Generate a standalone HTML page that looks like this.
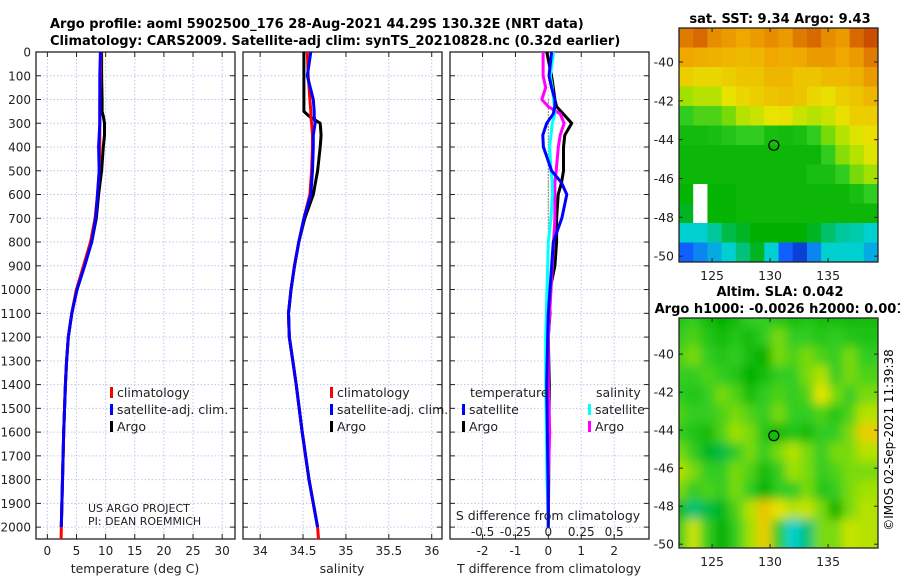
<!DOCTYPE html>
<html><head><meta charset="utf-8">
<style>
html,body{margin:0;padding:0;background:#fff;}
svg{display:block;font-family:"DejaVu Sans","Liberation Sans",sans-serif;}
</style></head>
<body>
<svg id="chart" width="900" height="580" viewBox="0 0 900 580" xmlns="http://www.w3.org/2000/svg">
<defs>
<filter id="blur" x="0" y="0" width="1" height="1"><feGaussianBlur stdDeviation="5"/></filter>
<clipPath id="clipSLA"><rect x="679" y="318" width="199" height="230"/></clipPath>
<clipPath id="clipSST"><rect x="679" y="28" width="199" height="234"/></clipPath>
</defs>
<text x="50" y="28" font-size="13" font-weight="bold">Argo profile: aoml 5902500_176 28-Aug-2021 44.29S 130.32E (NRT data)</text>
<text x="50" y="45" font-size="13" font-weight="bold">Climatology: CARS2009. Satellite-adj clim: synTS_20210828.nc (0.32d earlier)</text>
<text x="780" y="23" font-size="13" font-weight="bold" text-anchor="middle">sat. SST: 9.34 Argo: 9.43</text>
<text x="780" y="296" font-size="13" font-weight="bold" text-anchor="middle">Altim. SLA: 0.042</text>
<text x="780" y="313" font-size="13" font-weight="bold" text-anchor="middle">Argo h1000: -0.0026 h2000: 0.001</text>
<text transform="translate(893,440) rotate(-90)" font-size="12" text-anchor="middle">©IMOS 02-Sep-2021 11:39:38</text>
<g id="g"></g>
</svg>
<script>
// ---------- data ----------
const depthTicks = [0,100,200,300,400,500,600,700,800,900,1000,1100,1200,1300,1400,1500,1600,1700,1800,1900,2000];
const tempTicks = [0,5,10,15,20,25,30];
const salTicks = [34,34.5,35,35.5,36];
const salTickLabels = ["34","34.5","35","35.5","36"];
const tdiffTicks = [-2,-1,0,1,2];
const sdiffTicks = [-0.5,-0.25,0,0.25,0.5];
const sdiffTickLabels = ["-0.5","-0.25","0","0.25","0.5"];

const profDepths = [0,100,200,250,270,300,350,400,500,600,700,800,900,1000,1100,1200,1300,1400,1600,1800,2000];
const climDepths = [0,100,200,250,270,300,350,400,500,600,700,800,900,1000,1100,1200,1300,1400,1600,1800,2000,2050];
const tempArgo = [9.3,9.3,9.4,9.4,9.6,9.8,9.8,9.6,9.3,8.8,8.4,7.6,6.3,5.0,4.2,3.6,3.3,3.1,2.8,2.6,2.4];
const tempClim = [9.2,9.1,9.0,9.0,9.0,9.0,9.0,9.0,8.9,8.6,8.2,7.4,6.2,5.0,4.2,3.6,3.3,3.1,2.8,2.6,2.4,2.35];
const tempSat  = [9.1,9.0,9.0,9.0,9.0,9.0,8.9,8.8,8.9,8.6,8.3,7.6,6.4,5.1,4.2,3.6,3.3,3.1,2.8,2.6,2.4];
const salArgo = [34.51,34.51,34.51,34.51,34.57,34.70,34.71,34.70,34.67,34.62,34.52,34.45,34.40,34.36,34.33,34.34,34.38,34.42,34.49,34.57,34.67];
const salClim = [34.55,34.56,34.58,34.59,34.59,34.60,34.61,34.61,34.60,34.58,34.51,34.45,34.40,34.36,34.33,34.34,34.38,34.42,34.49,34.57,34.67,34.68];
const salSat  = [34.59,34.55,34.62,34.63,34.63,34.64,34.62,34.62,34.61,34.59,34.51,34.45,34.40,34.36,34.33,34.34,34.38,34.42,34.49,34.57,34.67];

const diffDepths = [0,100,150,200,230,260,300,350,400,500,550,600,700,800,900,1000,1100,1200,1400,1600,1800,2000];
const tdiffArgo = [-0.05,0.1,0.15,0.2,0.25,0.45,0.71,0.5,0.46,0.46,0.4,0.3,0.25,0.25,0.2,0.05,0.05,0.0,0.03,0.02,0.01,0.0];
const tdiffSat  = [0.1,0.02,0.1,0.2,0.2,0.15,-0.05,-0.17,-0.15,0.1,0.4,0.56,0.41,0.15,0.1,0.05,0.0,-0.02,-0.05,-0.03,-0.01,0];
const sdiffArgo = [-0.04,-0.04,-0.02,-0.05,0.0,0.09,0.12,0.09,0.076,0.06,0.05,0.05,0.05,0.04,0.03,0.02,0.01,0.0,0.0,0.01,0.0,0];
const sdiffSat  = [0.04,0.015,0.03,0.04,0.045,0.05,0.03,0.02,0.01,0.02,0.03,0.03,0.02,0.0,-0.005,-0.01,-0.015,-0.02,-0.02,-0.015,-0.01,0];

const lonTicks = [125,130,135];
const latTicks = [-40,-42,-44,-46,-48,-50];
const argoLon = 130.32, argoLat = -44.29;
const sstGrid = [
[0.85,0.88,0.82,0.8,0.78,0.8,0.82,0.8,0.85,0.88,0.82,0.8,0.88,0.92],
[0.78,0.77,0.76,0.75,0.74,0.75,0.78,0.77,0.78,0.8,0.8,0.78,0.8,0.85],
[0.7,0.68,0.68,0.7,0.72,0.72,0.75,0.75,0.72,0.72,0.74,0.74,0.76,0.8],
[0.58,0.6,0.6,0.65,0.68,0.7,0.72,0.73,0.72,0.68,0.66,0.7,0.72,0.75],
[0.5,0.52,0.52,0.55,0.6,0.62,0.65,0.66,0.62,0.6,0.62,0.66,0.7,0.7],
[0.45,0.45,0.46,0.48,0.5,0.5,0.46,0.45,0.46,0.5,0.55,0.6,0.64,0.66],
[0.44,0.44,0.44,0.44,0.44,0.44,0.44,0.44,0.44,0.44,0.5,0.56,0.6,0.64],
[0.44,0.44,0.44,0.44,0.44,0.44,0.44,0.44,0.44,0.46,0.46,0.5,0.55,0.58],
[0.43,null,0.43,0.43,0.44,0.44,0.44,0.44,0.44,0.44,0.44,0.44,0.46,0.5],
[0.4,null,0.43,0.43,0.44,0.44,0.44,0.44,0.44,0.44,0.44,0.44,0.44,0.44],
[0.3,0.3,0.33,0.38,0.4,0.42,0.42,0.42,0.42,0.4,0.36,0.33,0.32,0.3],
[0.15,0.2,0.25,0.3,0.35,0.4,0.3,0.15,0.1,0.2,0.3,0.3,0.3,0.25]];
const slaGrid = [
[0.48,0.5,0.45,0.42,0.45,0.5,0.5,0.48,0.46,0.48,0.46,0.46,0.45,0.45],
[0.5,0.52,0.48,0.45,0.48,0.45,0.5,0.55,0.5,0.5,0.48,0.5,0.48,0.47],
[0.52,0.55,0.5,0.48,0.5,0.45,0.42,0.55,0.52,0.55,0.52,0.5,0.55,0.5],
[0.5,0.5,0.52,0.5,0.48,0.42,0.46,0.5,0.5,0.55,0.6,0.5,0.55,0.52],
[0.5,0.48,0.5,0.55,0.52,0.45,0.5,0.52,0.5,0.52,0.65,0.55,0.5,0.55],
[0.52,0.5,0.5,0.52,0.55,0.52,0.5,0.55,0.5,0.5,0.52,0.48,0.52,0.6],
[0.5,0.48,0.45,0.52,0.58,0.55,0.48,0.45,0.48,0.45,0.5,0.5,0.55,0.7],
[0.55,0.5,0.4,0.38,0.5,0.55,0.5,0.55,0.6,0.55,0.5,0.55,0.55,0.6],
[0.6,0.55,0.5,0.5,0.55,0.52,0.45,0.5,0.58,0.55,0.5,0.52,0.55,0.55],
[0.55,0.5,0.52,0.5,0.55,0.5,0.42,0.5,0.5,0.55,0.48,0.5,0.55,0.58],
[0.45,0.35,0.38,0.4,0.52,0.6,0.72,0.65,0.6,0.62,0.55,0.42,0.55,0.6],
[0.5,0.62,0.5,0.42,0.5,0.58,0.7,0.5,0.3,0.35,0.55,0.55,0.62,0.6]];

// ---------- helpers ----------
const NS="http://www.w3.org/2000/svg";
const root=document.getElementById('g');
function el(tag,attrs,parent){const e=document.createElementNS(NS,tag);for(const k in attrs)e.setAttribute(k,attrs[k]);(parent||root).appendChild(e);return e;}
function txt(x,y,s,size,anchor){const t=el('text',{x:x,y:y,'font-size':size||12,'text-anchor':anchor||'start',fill:'#222'});t.textContent=s;return t;}
const cmapStops=[[0,[0,0,128]],[0.15,[16,96,255]],[0.3,[0,208,208]],[0.42,[0,176,0]],[0.5,[48,204,32]],[0.57,[150,224,0]],[0.65,[232,228,0]],[0.78,[240,168,0]],[0.88,[216,104,0]],[1,[176,24,0]]];
function jet(v){v=Math.max(0,Math.min(1,v));for(let i=1;i<cmapStops.length;i++){const a=cmapStops[i-1],b=cmapStops[i];if(v<=b[0]){const t=(v-a[0])/(b[0]-a[0]);const c=a[1].map((x,k)=>Math.round(x+(b[1][k]-x)*t));return `rgb(${c[0]},${c[1]},${c[2]})`;}}return 'rgb(176,24,0)';}

const PT=52, PB=539, DMAX=2050;
const yD=d=>PT+(PB-PT)*d/DMAX;
const panels=[{x0:36,x1:235,min:-1.95,max:32.2},{x0:243,x1:442,min:33.8,max:36.12},{x0:450,x1:649,min:-2.99,max:3.06}];
const sx=(p,v)=>p.x0+(p.x1-p.x0)*(v-p.min)/(p.max-p.min);
const sdx=v=>sx(panels[2],v*4);

function panelFrame(p,name,xt,xtl,showY){
  const g=el('g',{});
  
  
  xt.forEach(v=>{const x=sx(p,v);el('line',{x1:x,x2:x,y1:PT,y2:PB,stroke:'#c0c6ee','stroke-dasharray':'1.5,2','stroke-width':1},g);});
  depthTicks.forEach(d=>{const y=yD(d);el('line',{x1:p.x0,x2:p.x1,y1:y,y2:y,stroke:'#c0c6ee','stroke-dasharray':'1.5,2','stroke-width':1},g);
    el('line',{x1:p.x0,x2:p.x0+5,y1:y,y2:y,stroke:'#222'},g);el('line',{x1:p.x1-5,x2:p.x1,y1:y,y2:y,stroke:'#222'},g);
    if(showY){const t=txt(p.x0-5,y+4.5,String(d),12,'end');}});
  xt.forEach((v,i)=>{const x=sx(p,v);el('line',{x1:x,x2:x,y1:PB,y2:PB-5,stroke:'#222'},g);el('line',{x1:x,x2:x,y1:PT,y2:PT+5,stroke:'#222'},g);
    const t=txt(x,PB+16,xtl[i],12,'middle');});
  el('rect',{x:p.x0,y:PT,width:p.x1-p.x0,height:PB-PT,fill:'none',stroke:'#222','stroke-width':1.3},g);
}
function line(pts,color,name,w){const d=pts.map((p,i)=>(i?'L':'M')+p[0].toFixed(1)+','+p[1].toFixed(1)).join('');
  const pth=el('path',{d:d,fill:'none',stroke:color,'stroke-width':w||3,'stroke-linejoin':'round'});
  
  }
function legend(x,y,color,label){el('rect',{x:x,y:y-10,width:3,height:11,fill:color});const t=txt(x+7,y,label,12.5);}

// ---------- panel 1: temperature ----------
panelFrame(panels[0],'temperature-panel',tempTicks,tempTicks.map(String),true);
line(profDepths.map((d,i)=>[sx(panels[0],tempArgo[i]),yD(d)]),'#000','temp-argo-line');
line(climDepths.map((d,i)=>[sx(panels[0],tempClim[i]),yD(d)]),'#f00','temp-clim-line');
line(profDepths.map((d,i)=>[sx(panels[0],tempSat[i]),yD(d)]),'#00f','temp-sat-line');
txt(135,573,'temperature (deg C)',12.5,'middle');
legend(110,397,'#f00','climatology');legend(110,414,'#00f','satellite-adj. clim.');legend(110,431,'#000','Argo');
txt(88,512,'US ARGO PROJECT',11);txt(88,525,'PI: DEAN ROEMMICH',11);

// ---------- panel 2: salinity ----------
panelFrame(panels[1],'salinity-panel',salTicks,salTickLabels,false);
line(profDepths.map((d,i)=>[sx(panels[1],salArgo[i]),yD(d)]),'#000','sal-argo-line');
line(climDepths.map((d,i)=>[sx(panels[1],salClim[i]),yD(d)]),'#f00','sal-clim-line');
line(profDepths.map((d,i)=>[sx(panels[1],salSat[i]),yD(d)]),'#00f','sal-sat-line');
txt(342,573,'salinity',12.5,'middle');
legend(330,397,'#f00','climatology');legend(330,414,'#00f','satellite-adj. clim.');legend(330,431,'#000','Argo');

// ---------- panel 3: differences ----------
panelFrame(panels[2],'difference-panel',tdiffTicks,tdiffTicks.map(String),false);
el('line',{x1:sx(panels[2],0),x2:sx(panels[2],0),y1:yD(200),y2:yD(1000),stroke:'#445522','stroke-dasharray':'1,2','stroke-width':1.2});
line(diffDepths.map((d,i)=>[sx(panels[2],tdiffArgo[i]),yD(d)]),'#000','tdiff-argo-line');
line(diffDepths.map((d,i)=>[sdx(sdiffArgo[i]),yD(d)]),'#f0f','sdiff-argo-line');
line(diffDepths.map((d,i)=>[sdx(sdiffSat[i]),yD(d)]),'#0ff','sdiff-sat-line');
line(diffDepths.map((d,i)=>[sx(panels[2],tdiffSat[i]),yD(d)]),'#00f','tdiff-sat-line');
txt(548,520,'S difference from climatology',12.5,'middle');
sdiffTicks.forEach((v,i)=>{const t=txt(sdx(v),536,sdiffTickLabels[i],12,'middle');});
txt(549,573,'T difference from climatology',12.5,'middle');
txt(470,397,'temperature',12.5);txt(596,397,'salinity',12.5);
legend(462,414,'#00f','satellite');legend(462,431,'#000','Argo');
legend(588,414,'#0ff','satellite');legend(588,431,'#f0f','Argo');

// ---------- maps ----------
function map(grid,y0,y1,latTop,latBot,clip,name,blur,circleFill){
  const x0=679,x1=878,lonL=122.15,lonR=139.3;
  const mx=l=>x0+(x1-x0)*(l-lonL)/(lonR-lonL), my=l=>y0+(y1-y0)*(latTop-l)/(latTop-latBot);
  const g=el('g',{'clip-path':`url(#${clip})`});
  
  
  const inner=el('g',blur?{filter:'url(#blur)'}:{},g);
  const rows=grid.length,cols=grid[0].length,cw=(x1-x0)/cols,rh=(y1-y0)/rows;
  if(blur) el('rect',{x:x0-10,y:y0-10,width:x1-x0+20,height:y1-y0+20,fill:jet(0.5)},inner);
  grid.forEach((row,r)=>row.forEach((v,c)=>{
    const rc=el('rect',{x:x0+c*cw-(blur?cw*0.5:0),y:y0+r*rh-(blur?rh*0.5:0),width:cw+(blur?cw:0.5),height:rh+(blur?rh:0.5),fill:v===null?'#fff':jet(v)},inner);
    
  }));
  el('rect',{x:x0,y:y0,width:x1-x0,height:y1-y0,fill:'none',stroke:'#222','stroke-width':1.3});
  lonTicks.forEach(l=>{const x=mx(l);el('line',{x1:x,x2:x,y1:y1,y2:y1-4,stroke:'#222'});el('line',{x1:x,x2:x,y1:y0,y2:y0+4,stroke:'#222'});txt(x,y1+18,String(l),12.5,'middle');});
  latTicks.forEach(l=>{const y=my(l);el('line',{x1:x0,x2:x0+4,y1:y,y2:y,stroke:'#222'});el('line',{x1:x1,x2:x1-4,y1:y,y2:y,stroke:'#222'});txt(x0-5,y+4.5,String(l),12.5,'end');});
  const c=el('circle',{cx:mx(argoLon),cy:my(argoLat),r:5,fill:circleFill,stroke:'#000','stroke-width':1.2});
  
  
}
map(sstGrid,28,262,-38.25,-50.3,'clipSST','sst-map',false,'none');
map(slaGrid,318,548,-38.1,-50.2,'clipSLA','sla-map',true,jet(0.45));
</script>
</body></html>
